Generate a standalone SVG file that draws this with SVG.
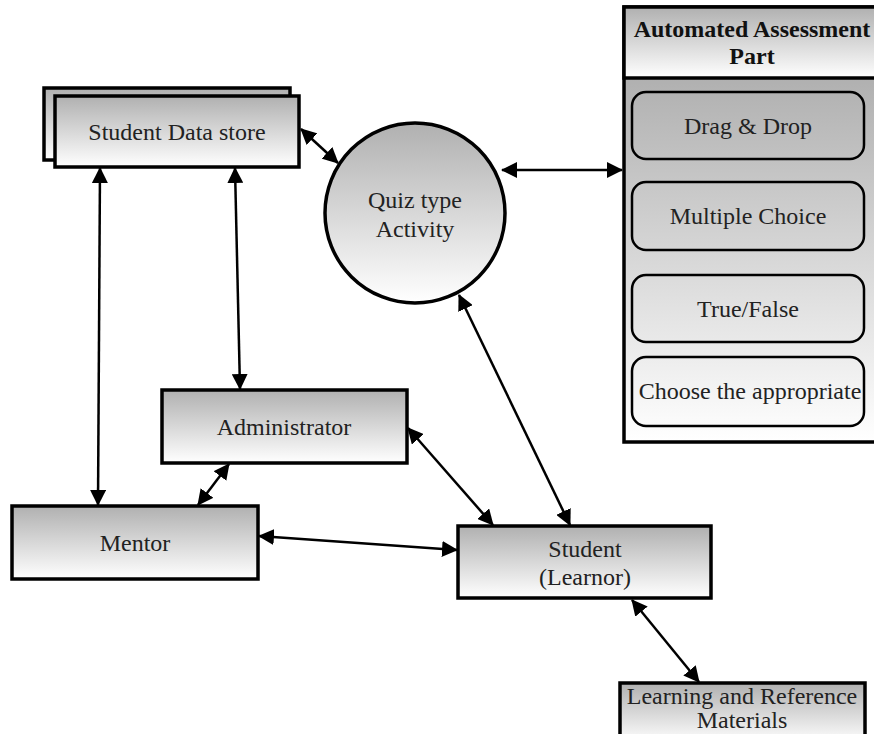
<svg xmlns="http://www.w3.org/2000/svg" width="874" height="734" viewBox="0 0 874 734">
<defs>
<linearGradient id="g" x1="0" y1="0" x2="0" y2="1"><stop offset="0" stop-color="#b0b0b0"/><stop offset="1" stop-color="#ffffff"/></linearGradient>
<linearGradient id="gp" gradientUnits="userSpaceOnUse" x1="0" y1="78" x2="0" y2="442"><stop offset="0" stop-color="#b0b0b0"/><stop offset="1" stop-color="#ffffff"/></linearGradient>
<marker id="a" viewBox="0 0 16 16" refX="15" refY="8" markerWidth="16" markerHeight="16" markerUnits="userSpaceOnUse" orient="auto-start-reverse"><path d="M0,0 L16,8 L0,16 Z" fill="#000"/></marker>
</defs>
<style>
.box{fill:url(#g);stroke:#000;stroke-width:3.5}
.rb{fill:url(#gp);stroke:#000;stroke-width:2.5}
.t{font-family:'Liberation Serif','DejaVu Serif','Times New Roman',serif;font-size:24px;fill:#222;text-anchor:middle}
.tb{font-family:'Liberation Serif','DejaVu Serif','Times New Roman',serif;font-size:24px;font-weight:bold;fill:#111;text-anchor:middle}
.c{stroke:#000;stroke-width:2.5;fill:none;marker-start:url(#a);marker-end:url(#a)}
</style>
<rect width="874" height="734" fill="#fff"/>
<g id="datastore">
<rect x="44" y="88" width="246" height="72" class="box"/>
<rect x="55" y="96" width="244" height="71" class="box"/>
<text x="177" y="140" class="t">Student Data store</text>
</g>
<g id="quiz">
<circle cx="415" cy="213" r="90" class="box" stroke-width="3"/>
<text x="415" y="208" class="t">Quiz type</text>
<text x="415" y="237" class="t">Activity</text>
</g>
<g id="automated">
<rect x="624" y="7" width="260" height="435" fill="url(#gp)" stroke="#000" stroke-width="3.5"/>
<rect x="624" y="7" width="260" height="71" class="box"/>
<text x="752" y="37" class="tb">Automated Assessment</text>
<text x="752" y="64" class="tb">Part</text>
<g id="dragdrop"><rect x="632" y="92" width="232" height="67" rx="14" class="rb"/><text x="748" y="134" class="t">Drag &amp; Drop</text></g>
<g id="multiple"><rect x="632" y="182" width="232" height="68" rx="14" class="rb"/><text x="748" y="224" class="t">Multiple Choice</text></g>
<g id="truefalse"><rect x="632" y="275" width="232" height="67" rx="14" class="rb"/><text x="748" y="317" class="t">True/False</text></g>
<g id="choose"><rect x="632" y="357" width="232" height="69" rx="14" class="rb"/><text x="750" y="399" class="t">Choose the appropriate</text></g>
</g>
<g id="administrator">
<rect x="162" y="390" width="245" height="73" class="box"/>
<text x="284" y="435" class="t">Administrator</text>
</g>
<g id="mentor">
<rect x="12" y="506" width="246" height="73" class="box"/>
<text x="135" y="551" class="t">Mentor</text>
</g>
<g id="student">
<rect x="458" y="526" width="253" height="72" class="box"/>
<text x="585" y="557" class="t">Student</text>
<text x="585" y="585" class="t">(Learnor)</text>
</g>
<g id="learning">
<rect x="620" y="683" width="245" height="60" class="box"/>
<text x="742" y="704" class="t">Learning and Reference</text>
<text x="742" y="728" class="t">Materials</text>
</g>
<g id="connectors">
<line x1="301" y1="129" x2="338" y2="163" class="c"/>
<line x1="100" y1="168" x2="98" y2="505" class="c"/>
<line x1="235" y1="168" x2="240" y2="389" class="c"/>
<line x1="502" y1="170" x2="622" y2="170" class="c"/>
<line x1="459" y1="295" x2="570" y2="525" class="c"/>
<line x1="229" y1="464" x2="198" y2="505" class="c"/>
<line x1="408" y1="428" x2="493" y2="525" class="c"/>
<line x1="259" y1="536" x2="457" y2="550" class="c"/>
<line x1="632" y1="600" x2="699" y2="682" class="c"/>
</g>
</svg>
